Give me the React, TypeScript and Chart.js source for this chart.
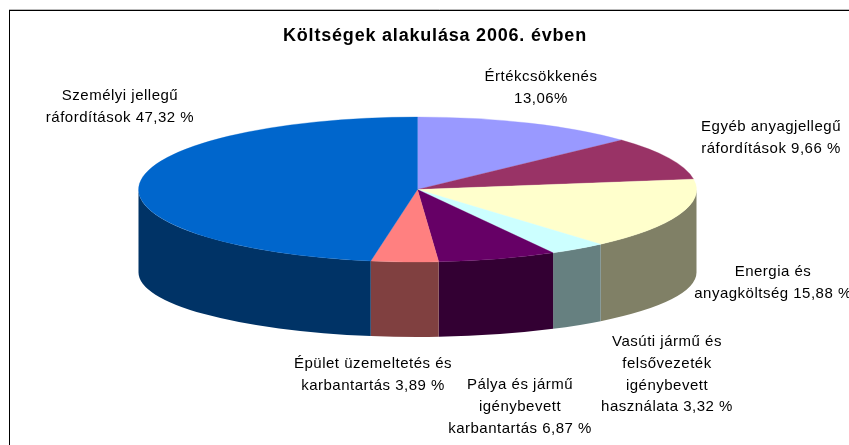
import React, { useEffect, useRef } from "react";
import { Chart, registerables } from "chart.js";

Chart.register(...registerables);

const TITLE = "Költségek alakulása 2006. évben";
const categories = [
  "Értékcsökkenés",
  "Egyéb anyagjellegű ráfordítások",
  "Energia és anyagköltség",
  "Vasúti jármű és felsővezeték igénybevett használata",
  "Pálya és jármű igénybevett karbantartás",
  "Épület üzemeltetés és karbantartás",
  "Személyi jellegű ráfordítások",
];
const shares = [13.06, 9.66, 15.88, 3.32, 6.87, 3.89, 47.32];
const labelLines = [
  ["Értékcsökkenés", "13,06%"],
  ["Egyéb anyagjellegű", "ráfordítások 9,66 %"],
  ["Energia és", "anyagköltség 15,88 %"],
  ["Vasúti jármű és", "felsővezeték", "igénybevett", "használata 3,32 %"],
  ["Pálya és jármű", "igénybevett", "karbantartás 6,87 %"],
  ["Épület üzemeltetés és", "karbantartás 3,89 %"],
  ["Személyi jellegű", "ráfordítások 47,32 %"],
];
const topColors = ["#9999FF", "#993366", "#FFFFCC", "#CCFFFF", "#660066", "#FF8080", "#0066CC"];
const wallColors = ["#666699", "#663344", "#808066", "#668080", "#330033", "#804040", "#003366"];
// Centre x and first-line y of each label block
const labelAnchors = [
  [541, 77],
  [771, 127],
  [773, 272],
  [667, 342],
  [520, 385],
  [373, 364],
  [120, 96],
];

const CANVAS_W = 870;
const CANVAS_H = 470;
const RX = 279;
const RY = 72.5;
const CX = 417.5;
const CY = 189.5;
const WALL_CY = 272.5;
const WALL_RY = 64.5;
const LINE_H = 21.7;

const pie3d = {
  id: "pie3d",
  beforeDraw(chart: any) {
    const { ctx } = chart;
    ctx.save();
    ctx.lineWidth = 1;
    ctx.strokeStyle = "#bbb";
    ctx.beginPath();
    ctx.moveTo(9, 9.5);
    ctx.lineTo(CANVAS_W, 9.5);
    ctx.stroke();
    ctx.strokeStyle = "#000";
    ctx.strokeRect(9.5, 10.5, CANVAS_W, CANVAS_H);
    ctx.restore();
    ctx.letterSpacing = "0.8px";
  },
  beforeDatasetsDraw(chart: any) {
    const { ctx } = chart;
    ctx.letterSpacing = "0px";
    const arcs = chart.getDatasetMeta(0).data;
    arcs.forEach((arc: any, i: number) => {
      const props = arc.getProps(["startAngle", "endAngle"], true);
      const norm = (a: number) => ((a % (2 * Math.PI)) + 2 * Math.PI) % (2 * Math.PI);
      const s = norm(props.startAngle);
      const e = s + (props.endAngle - props.startAngle);
      // keep the part of the slice that faces the viewer (0..PI in canvas angles)
      const pieces: [number, number][] = [];
      [0, 2 * Math.PI].forEach((off) => {
        const a = Math.max(s, off);
        const b = Math.min(e, off + Math.PI);
        if (b > a) pieces.push([a, b]);
      });
      pieces.forEach(([a, b]) => {
        ctx.beginPath();
        ctx.ellipse(CX, CY, RX, RY, 0, a, b, false);
        ctx.ellipse(CX, WALL_CY, RX, WALL_RY, 0, b, a, true);
        ctx.closePath();
        ctx.fillStyle = wallColors[i];
        ctx.fill();
      });
    });
    const first = arcs[0];
    ctx.save();
    ctx.translate(CX, CY);
    ctx.scale(1, RY / RX);
    ctx.translate(-first.x, -first.y);
  },
  afterDatasetsDraw(chart: any) {
    const { ctx } = chart;
    ctx.restore();
    ctx.save();
    ctx.fillStyle = "#000";
    ctx.font = '15px "Liberation Sans", Arial, sans-serif';
    ctx.letterSpacing = "0.5px";
    ctx.textAlign = "center";
    ctx.textBaseline = "middle";
    labelLines.forEach((lines, i) => {
      const [x, y] = labelAnchors[i];
      lines.forEach((line, j) => ctx.fillText(line, x, y + j * LINE_H));
    });
    ctx.restore();
    ctx.letterSpacing = "0px";
  },
};

export default function App() {
  const ref = useRef<HTMLCanvasElement>(null);
  useEffect(() => {
    document.body.style.margin = "0";
    const chart = new Chart(ref.current!, {
      type: "pie",
      data: {
        labels: categories,
        datasets: [
          {
            data: shares,
            backgroundColor: topColors,
            borderColor: topColors,
            borderWidth: 0.5,
            radius: RX,
            clip: false,
          } as any,
        ],
      },
      options: {
        responsive: false,
        animation: false,
        devicePixelRatio: 1,
        plugins: {
          legend: { display: false },
          tooltip: { enabled: false },
          title: {
            display: true,
            text: TITLE,
            color: "#000",
            font: { family: '"Liberation Sans", Arial, sans-serif', size: 18, weight: "bold" },
            padding: { top: 25, bottom: 4 },
          },
        },
      },
      plugins: [pie3d],
    } as any);
    return () => chart.destroy();
  }, []);
  return (
    <div style={{ position: "relative", width: 849, height: 445, overflow: "hidden", background: "#fff" }}>
      <canvas ref={ref} width={CANVAS_W} height={CANVAS_H} style={{ display: "block" }} />
    </div>
  );
}
